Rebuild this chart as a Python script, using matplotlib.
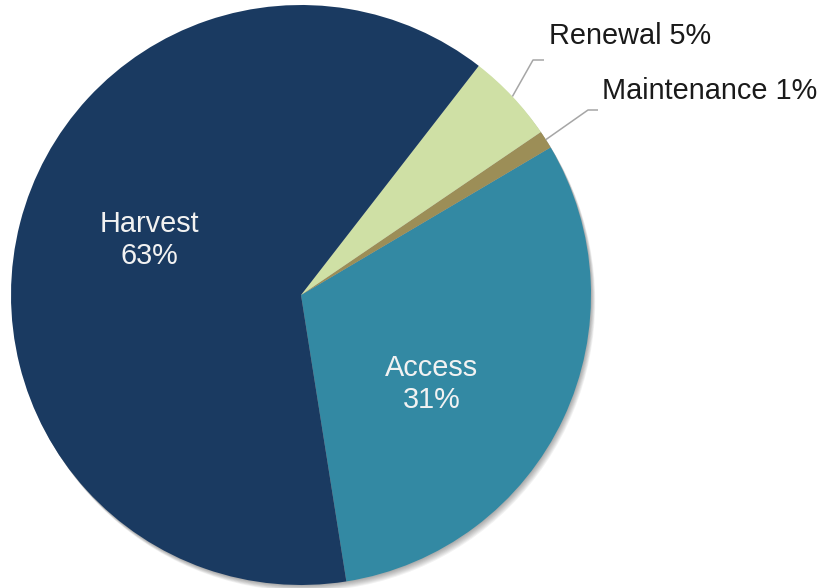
import numpy as np
import matplotlib
matplotlib.use("Agg")
import matplotlib.pyplot as plt

# ---- data ----
categories = ["Access", "Maintenance", "Renewal", "Harvest"]
values = [31, 1, 5, 63]
colors = ["#3389a3", "#9c8e57", "#cfe0a5", "#1a3a61"]

W, H = 823, 588
fig = plt.figure(figsize=(W / 100, H / 100), dpi=100)
ax = fig.add_axes([0, 0, 1, 1])

cx, cy, R = 301, H - 295, 290
start = -81.0

# soft shadow toward bottom-right
for k in range(1, 8):
    c = plt.Circle((cx + 0.6 * k, cy - 0.9 * k), R, color="#000000",
                   alpha=0.05, lw=0, zorder=0)
    ax.add_patch(c)

wedges, _ = ax.pie(values, colors=colors, startangle=start, counterclock=True,
                   center=(cx, cy), radius=R, frame=True,
                   wedgeprops=dict(linewidth=0, antialiased=True))
for w in wedges:
    w.set_zorder(2)
ax.set_xlim(0, W)
ax.set_ylim(0, H)
ax.set_aspect("equal")
ax.axis("off")

font = "Liberation Sans"
total = sum(values)
angles = np.cumsum([0] + values) / total * 360 + start

# inside labels
inside = {"Harvest": (149, 240), "Access": (432, 384)}
for name, (px, py) in inside.items():
    i = categories.index(name)
    ax.text(px, H - py, f"{name}\n{values[i]}%", ha="center", va="center",
            color="#f2f2f2", fontsize=20.8, family=font, linespacing=1.22,
            zorder=5)

# outside labels with leader lines
outside = {"Renewal": ((533, 60), (544, 60), (549, 36)),
           "Maintenance": ((588, 110), (598, 110), (602, 91))}
for name, (elbow, end, tpos) in outside.items():
    i = categories.index(name)
    mid = np.deg2rad((angles[i] + angles[i + 1]) / 2)
    ex, ey = cx + R * np.cos(mid), cy + R * np.sin(mid)
    ax.plot([ex, elbow[0], end[0]], [ey, H - elbow[1], H - end[1]],
            color="#a6a6a6", lw=1.1, zorder=4, solid_capstyle="butt")
    ax.text(tpos[0], H - tpos[1], f"{name} {values[i]}%", ha="left",
            va="center", color="#1a1a1a", fontsize=20.8, family=font, zorder=5)

fig.savefig("out.png", dpi=100)
